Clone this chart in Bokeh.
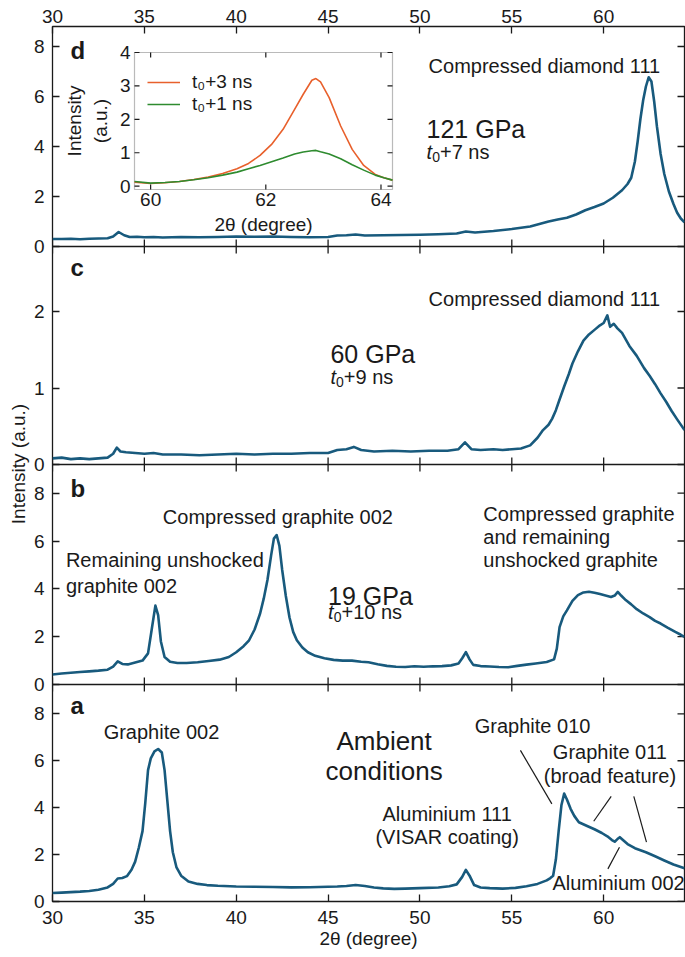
from math import pi
from bokeh.plotting import figure
from bokeh.models import (Range1d, LinearAxis, FixedTicker, BoxAnnotation, Label,
                          Legend, LegendItem, Span)
from bokeh.embed import file_html
from bokeh.resources import INLINE

FONT = "Liberation Sans"
INK = "#1a1a1a"
CURVE = "#185a7d"
ORANGE = "#e8602c"
GREEN = "#2e8b2f"

X_MIN, X_MAX = 30.0, 64.4
X_TICKS = [30, 35, 40, 45, 50, 55, 60]

# ---------------- panel d : 121 GPa, t0+7 ns ----------------
d_x = [30.0, 30.5, 31.0, 31.5, 32.0, 32.5, 33.0, 33.3, 33.6, 33.9, 34.2, 34.6, 35.0, 35.5,
       36.0, 37.0, 38.0, 39.0, 40.0, 41.0, 42.0, 43.0, 44.0, 45.0, 45.5, 46.0, 46.5, 47.0,
       48.0, 49.0, 50.0, 51.0, 52.0, 52.5, 53.0, 54.0, 55.0, 55.5, 56.0, 56.5, 57.0, 57.5,
       58.0, 58.5, 59.0, 59.5, 60.0, 60.5, 61.0, 61.3, 61.5, 61.7, 61.85, 62.0, 62.15, 62.3,
       62.45, 62.6, 62.75, 62.9, 63.1, 63.3, 63.55, 63.8, 64.0, 64.2, 64.4]
d_y = [0.30, 0.30, 0.31, 0.29, 0.31, 0.32, 0.33, 0.40, 0.58, 0.45, 0.38, 0.39, 0.37, 0.38,
       0.36, 0.38, 0.37, 0.38, 0.40, 0.39, 0.40, 0.38, 0.37, 0.38, 0.44, 0.45, 0.48, 0.44,
       0.45, 0.46, 0.47, 0.49, 0.52, 0.60, 0.56, 0.62, 0.70, 0.75, 0.80, 0.90, 1.00, 1.08,
       1.15, 1.28, 1.45, 1.58, 1.72, 1.95, 2.25, 2.50, 2.75, 3.40, 4.20, 5.10, 5.85, 6.40,
       6.77, 6.60, 5.80, 4.80, 3.70, 2.90, 2.20, 1.70, 1.35, 1.12, 0.97]

# ---------------- panel c : 60 GPa, t0+9 ns ----------------
c_x = [30.0, 30.5, 31.0, 31.5, 32.0, 32.5, 33.0, 33.3, 33.5, 33.7, 34.0, 34.5, 35.0, 35.5,
       36.0, 37.0, 38.0, 39.0, 40.0, 41.0, 42.0, 43.0, 44.0, 45.0, 45.5, 46.0, 46.4, 46.8,
       47.5, 48.5, 49.5, 50.5, 51.5, 52.1, 52.45, 52.8, 53.3, 54.0, 54.5, 55.0, 55.5, 56.0,
       56.4, 56.7, 57.0, 57.2, 57.4, 57.6, 57.85, 58.1, 58.3, 58.6, 58.9, 59.2, 59.5, 59.8,
       60.0, 60.2, 60.35, 60.55, 60.75, 61.0, 61.4, 61.8, 62.2, 62.5, 62.8, 63.1, 63.4, 63.7,
       64.0, 64.4]
c_y = [0.08, 0.09, 0.07, 0.08, 0.07, 0.08, 0.09, 0.14, 0.22, 0.17, 0.16, 0.15, 0.14, 0.15,
       0.13, 0.13, 0.12, 0.13, 0.14, 0.13, 0.14, 0.14, 0.15, 0.15, 0.19, 0.20, 0.23, 0.19,
       0.17, 0.18, 0.17, 0.18, 0.18, 0.20, 0.29, 0.20, 0.19, 0.20, 0.19, 0.20, 0.21, 0.25,
       0.35, 0.45, 0.52, 0.60, 0.71, 0.85, 1.02, 1.18, 1.32, 1.48, 1.62, 1.70, 1.76, 1.82,
       1.85, 1.95, 1.80, 1.84, 1.78, 1.72, 1.55, 1.42, 1.26, 1.16, 1.05, 0.93, 0.82, 0.70,
       0.59, 0.45]

# ---------------- panel b : 19 GPa, t0+10 ns ----------------
b_x = [30.0, 30.5, 31.0, 31.5, 32.0, 32.5, 33.0, 33.3, 33.55, 33.8, 34.1, 34.5, 34.9, 35.2,
       35.4, 35.6, 35.75, 35.9, 36.1, 36.4, 36.8, 37.3, 37.9, 38.5, 39.1, 39.6, 40.0, 40.4,
       40.7, 41.0, 41.3, 41.5, 41.7, 41.9, 42.05, 42.2, 42.35, 42.5, 42.7, 42.9, 43.1, 43.3,
       43.6, 43.9, 44.3, 44.8, 45.3, 45.8, 46.3, 46.8, 47.2, 47.7, 48.2, 48.7, 49.2, 49.7,
       50.2, 50.7, 51.2, 51.7, 52.1, 52.3, 52.5, 52.7, 52.9, 53.3, 53.8, 54.3, 54.8, 55.3,
       55.8, 56.3, 56.9, 57.3, 57.45, 57.6, 57.8, 58.0, 58.3, 58.6, 58.9, 59.2, 59.5, 59.8,
       60.1, 60.4, 60.6, 60.77, 60.95, 61.2, 61.5, 61.8, 62.15, 62.5, 62.8, 63.1, 63.5, 63.9,
       64.2, 64.4]
b_y = [0.42, 0.46, 0.49, 0.52, 0.55, 0.58, 0.62, 0.75, 0.97, 0.86, 0.84, 0.92, 1.00, 1.30,
       2.30, 3.30, 2.90, 1.80, 1.15, 0.95, 0.90, 0.90, 0.93, 0.98, 1.04, 1.15, 1.35, 1.60,
       1.85, 2.30, 2.97, 3.60, 4.37, 5.40, 6.10, 6.25, 5.80, 4.80, 3.70, 2.80, 2.20, 1.85,
       1.55, 1.35, 1.20, 1.10, 1.03, 1.00, 1.00, 0.95, 0.93, 0.85, 0.78, 0.74, 0.73, 0.76,
       0.74, 0.76, 0.77, 0.80, 0.88, 1.10, 1.35, 1.05, 0.82, 0.77, 0.75, 0.73, 0.72, 0.78,
       0.83, 0.88, 0.94, 1.05, 1.50, 2.40, 2.85, 3.10, 3.50, 3.74, 3.85, 3.88, 3.84, 3.78,
       3.72, 3.66, 3.72, 3.87, 3.72, 3.53, 3.35, 3.15, 2.97, 2.82, 2.66, 2.55, 2.37, 2.20,
       2.08, 1.99]

# ---------------- panel a : ambient conditions ----------------
a_x = [30.0, 30.5, 31.0, 31.5, 32.0, 32.5, 33.0, 33.3, 33.55, 33.8, 34.05, 34.3, 34.5, 34.7,
       34.9, 35.05, 35.2, 35.35, 35.55, 35.75, 35.95, 36.1, 36.25, 36.4, 36.55, 36.75, 37.0,
       37.4, 37.9, 38.4, 39.0, 40.0, 41.0, 42.0, 43.0, 44.0, 45.0, 45.5, 46.0, 46.5, 47.0,
       47.5, 48.0, 48.6, 49.2, 50.0, 51.0, 51.6, 52.0, 52.3, 52.5, 52.7, 52.95, 53.3, 53.8,
       54.5, 55.2, 55.8, 56.4, 56.9, 57.1, 57.25, 57.4, 57.55, 57.7, 57.85, 58.0, 58.2, 58.4,
       58.65, 59.1, 59.5, 59.9, 60.2, 60.45, 60.6, 60.75, 60.88, 61.05, 61.3, 61.7, 62.3,
       62.8, 63.3, 63.8, 64.4]
a_y = [0.36, 0.38, 0.40, 0.42, 0.45, 0.50, 0.60, 0.75, 0.98, 1.00, 1.08, 1.35, 1.70, 2.30,
       3.00, 4.20, 5.60, 6.10, 6.40, 6.50, 6.35, 5.60, 4.30, 3.00, 2.10, 1.45, 1.10, 0.85,
       0.75, 0.70, 0.67, 0.64, 0.63, 0.62, 0.60, 0.61, 0.63, 0.64, 0.66, 0.70, 0.66, 0.60,
       0.56, 0.54, 0.55, 0.57, 0.60, 0.65, 0.73, 1.05, 1.35, 1.10, 0.70, 0.60, 0.57, 0.55,
       0.58, 0.65, 0.75, 0.90, 1.00, 1.10, 1.80, 3.00, 4.10, 4.60, 4.35, 3.95, 3.65, 3.38,
       3.22, 3.08, 2.92, 2.78, 2.62, 2.55, 2.66, 2.74, 2.62, 2.45, 2.27, 2.10, 1.93, 1.75,
       1.58, 1.42]

# leader lines in panel a (x0, y0) -> (x1, y1)
a_lead_x0 = [55.47, 60.41, 61.64, 60.86]
a_lead_y0 = [6.44, 4.48, 4.48, 2.31]
a_lead_x1 = [57.18, 59.46, 62.33, 60.23]
a_lead_y1 = [4.16, 3.42, 2.53, 1.39]

# ---------------- inset (panel d) ----------------
inset_x = [59.72, 60.0, 60.25, 60.5, 60.75, 61.0, 61.25, 61.5, 61.7, 61.9, 62.1, 62.3, 62.5,
           62.65, 62.8, 62.87, 62.95, 63.1, 63.3, 63.5, 63.7, 63.9, 64.05, 64.2]
inset_t3 = [0.12, 0.08, 0.10, 0.14, 0.20, 0.27, 0.38, 0.52, 0.68, 0.92, 1.25, 1.70, 2.30,
            2.75, 3.17, 3.22, 3.12, 2.65, 1.80, 1.10, 0.62, 0.35, 0.25, 0.18]
inset_t1 = [0.14, 0.09, 0.11, 0.14, 0.19, 0.25, 0.33, 0.42, 0.52, 0.62, 0.73, 0.84, 0.96,
            1.02, 1.06, 1.07, 1.03, 0.96, 0.82, 0.64, 0.48, 0.33, 0.25, 0.18]
INSET_XLIM = (59.72, 64.2)
INSET_YLIM = (-0.1, 4.0)
INSET_XTICKS = [60, 62, 64]
INSET_YTICKS = [0, 1, 2, 3, 4]

# ---------------- geometry (page pixels) ----------------
W, H = 685, 957
FR_L, FR_R, FR_T, FR_B = 52, 684, 26, 901
FR_W, FR_H = FR_R - FR_L, FR_B - FR_T
# panel bands: name -> (top px, bottom px, y max, y ticks)
PANELS = {
    "d": (26, 246, 8.8, [0, 2, 4, 6, 8]),
    "c": (246, 464, 2.85, [0, 1, 2]),
    "b": (464, 684, 9.2, [0, 2, 4, 6, 8]),
    "a": (684, 901, 9.25, [0, 2, 4, 6, 8]),
}
TICK_PX = 7

p = figure(width=W, height=H, x_range=Range1d(X_MIN, X_MAX), y_range=Range1d(0, FR_H),
           output_backend="svg", toolbar_location=None, x_axis_location=None,
           y_axis_location=None)
p.min_border_left = FR_L
p.min_border_right = W - FR_R
p.min_border_top = FR_T
p.min_border_bottom = H - FR_B
p.grid.visible = False
p.outline_line_color = INK
p.outline_line_width = 1.3
p.background_fill_color = "white"
p.border_fill_color = "white"


def style_axis(ax, standoff):
    ax.axis_line_color = None
    ax.major_tick_in = TICK_PX
    ax.major_tick_out = 0
    ax.minor_tick_line_color = None
    ax.major_tick_line_color = INK
    ax.major_tick_line_width = 1.3
    ax.major_label_text_font = FONT
    ax.major_label_text_font_size = "19px"
    ax.major_label_text_color = INK
    ax.major_label_standoff = standoff


above = LinearAxis(ticker=FixedTicker(ticks=X_TICKS))
style_axis(above, 4)
p.add_layout(above, "above")
below = LinearAxis(ticker=FixedTicker(ticks=X_TICKS))
style_axis(below, 9)
below.axis_label = "2θ (degree)"
below.axis_label_text_font = FONT
below.axis_label_text_font_size = "19px"
below.axis_label_text_font_style = "normal"
below.axis_label_text_color = INK
below.axis_label_standoff = 1
p.add_layout(below, "below")

# per-panel y ranges (each panel is a band of the frame)
extra_y = {}
scale = {}
left_ticks, left_labels = [], {}
for name, (top_px, bot_px, ymax, yticks) in PANELS.items():
    s = (bot_px - top_px) / ymax
    start = -(FR_B - bot_px) / s
    extra_y[name] = Range1d(start, start + FR_H / s)
    scale[name] = s
    for t in yticks:
        pos = round((FR_B - bot_px) + t * s, 3)
        left_ticks.append(pos)
        left_labels[pos] = str(t)

# shared left axis: panel tick values mapped onto the common frame
left = LinearAxis(ticker=FixedTicker(ticks=left_ticks), major_label_overrides=left_labels)
style_axis(left, 8)
left.axis_label = "Intensity (a.u.)"
left.axis_label_text_font = FONT
left.axis_label_text_font_size = "19px"
left.axis_label_text_font_style = "normal"
left.axis_label_text_color = INK
left.axis_label_standoff = 2
p.add_layout(left, "left")

# inset ranges
sx = (392 - 134) / (INSET_XLIM[1] - INSET_XLIM[0])
sy = (189 - 52) / (INSET_YLIM[1] - INSET_YLIM[0])
ix0 = INSET_XLIM[0] - (134 - FR_L) / sx
iy0 = INSET_YLIM[0] - (FR_B - 189) / sy
extra_y["iy"] = Range1d(iy0, iy0 + FR_H / sy)
p.extra_y_ranges = extra_y
p.extra_x_ranges = {"ix": Range1d(ix0, ix0 + FR_W / sx)}

ux = TICK_PX * (X_MAX - X_MIN) / FR_W
for name, (top_px, bot_px, ymax, yticks) in PANELS.items():
    uy = TICK_PX / scale[name]
    x0, y0, x1, y1 = [], [], [], []
    for t in yticks:
        x0.append(X_MAX); x1.append(X_MAX - ux); y0.append(t); y1.append(t)
    if name != "d":
        for t in X_TICKS:
            x0.append(t); x1.append(t); y0.append(ymax); y1.append(ymax - uy)
    if name != "a":
        for t in X_TICKS:
            x0.append(t); x1.append(t); y0.append(0); y1.append(uy)
        p.add_layout(Span(location=0, dimension="width", y_range_name=name,
                          line_color=INK, line_width=1.3))
    p.segment(x0, y0, x1, y1, line_color=INK, line_width=1.3, y_range_name=name)

for name, xs, ys in [("d", d_x, d_y), ("c", c_x, c_y), ("b", b_x, b_y), ("a", a_x, a_y)]:
    p.line(xs, ys, line_color=CURVE, line_width=2.6, line_join="round", y_range_name=name)


def note(panel, x, y, text, size="20px", align="left", style="normal", **kw):
    p.add_layout(Label(x=x, y=y, text=text, text_font=FONT, text_font_size=size,
                       text_font_style=style, text_color=INK, text_align=align,
                       text_baseline="middle", y_range_name=panel, **kw))


def time_note(panel, x, y, rest):
    note(panel, x, y, "t", style="italic")
    note(panel, x, y, "0", size="14px", x_offset=5.6, y_offset=-5)
    note(panel, x, y, rest, x_offset=13.4)


# panel d texts
note("d", 30.98, 7.84, "d", size="24px", style="bold")
note("d", 50.47, 7.24, "Compressed diamond 111")
note("d", 50.36, 4.71, "121 GPa", size="25px")
time_note("d", 50.36, 3.77, "+7 ns")

# panel c texts
note("c", 30.98, 2.58, "c", size="24px", style="bold")
note("c", 50.47, 2.17, "Compressed diamond 111")
note("c", 45.13, 1.45, "60 GPa", size="25px")
time_note("c", 45.13, 1.14, "+9 ns")

# panel b texts
note("b", 30.98, 8.2, "b", size="24px", style="bold")
note("b", 42.27, 7.0, "Compressed graphite 002", align="center")
note("b", 30.73, 5.19, "Remaining unshocked")
note("b", 30.73, 4.14, "graphite 002")
note("b", 45.0, 3.72, "19 GPa", size="25px")
time_note("b", 45.0, 3.03, "+10 ns")
note("b", 53.45, 7.14, "Compressed graphite")
note("b", 53.45, 6.16, "and remaining")
note("b", 53.45, 5.19, "unshocked graphite")

# panel a texts
note("a", 30.98, 8.35, "a", size="24px", style="bold")
note("a", 35.93, 7.22, "Graphite 002", align="center")
note("a", 48.05, 6.86, "Ambient", size="26px", align="center")
note("a", 48.05, 5.58, "conditions", size="26px", align="center")
note("a", 51.48, 3.74, "Aluminium 111", align="center")
note("a", 51.48, 2.74, "(VISAR coating)", align="center")
note("a", 56.13, 7.46, "Graphite 010", align="center")
note("a", 60.34, 6.36, "Graphite 011", align="center")
note("a", 60.34, 5.33, "(broad feature)", align="center")
note("a", 60.81, 0.78, "Aluminium 002", align="center")
p.segment(a_lead_x0, a_lead_y0, a_lead_x1, a_lead_y1, line_color=INK, line_width=1.2,
          y_range_name="a")

# ---------------- inset inside panel d ----------------
IR = dict(x_range_name="ix", y_range_name="iy")
p.add_layout(BoxAnnotation(left=INSET_XLIM[0], right=INSET_XLIM[1], bottom=INSET_YLIM[0],
                           top=INSET_YLIM[1], fill_color="white", fill_alpha=1.0,
                           line_color=INK, line_width=1.2, level="underlay", **IR))
r3 = p.line(inset_x, inset_t3, line_color=ORANGE, line_width=1.6, **IR)
r1 = p.line(inset_x, inset_t1, line_color=GREEN, line_width=1.6, **IR)

tk = 5.0
tx0, ty0, tx1, ty1 = [], [], [], []
for t in INSET_XTICKS:
    tx0 += [t, t]
    tx1 += [t, t]
    ty0 += [INSET_YLIM[0], INSET_YLIM[1]]
    ty1 += [INSET_YLIM[0] + tk / sy, INSET_YLIM[1] - tk / sy]
for t in INSET_YTICKS:
    ty0 += [t, t]
    ty1 += [t, t]
    tx0 += [INSET_XLIM[0], INSET_XLIM[1]]
    tx1 += [INSET_XLIM[0] + tk / sx, INSET_XLIM[1] - tk / sx]
p.segment(tx0, ty0, tx1, ty1, line_color=INK, line_width=1.2, **IR)

for t in INSET_XTICKS:
    p.add_layout(Label(x=t, y=INSET_YLIM[0], text=str(t), text_font=FONT,
                       text_font_size="19px", text_color=INK, text_align="center",
                       text_baseline="top", y_offset=-3, **IR))
for t in INSET_YTICKS:
    p.add_layout(Label(x=INSET_XLIM[0], y=t, text=str(t), text_font=FONT,
                       text_font_size="19px", text_color=INK, text_align="right",
                       text_baseline="middle", x_offset=-4, **IR))
xmid = (INSET_XLIM[0] + INSET_XLIM[1]) / 2
ymid = (INSET_YLIM[0] + INSET_YLIM[1]) / 2
p.add_layout(Label(x=xmid, y=INSET_YLIM[0], text="2θ (degree)", text_font=FONT,
                   text_font_size="19px", text_color=INK, text_align="center",
                   text_baseline="middle", y_offset=-35, **IR))
p.add_layout(Label(x=INSET_XLIM[0], y=ymid, text="Intensity", text_font=FONT,
                   text_font_size="19px", text_color=INK, text_align="center",
                   text_baseline="middle", x_offset=-60, angle=pi / 2, **IR))
p.add_layout(Label(x=INSET_XLIM[0], y=ymid, text="(a.u.)", text_font=FONT,
                   text_font_size="19px", text_color=INK, text_align="center",
                   text_baseline="middle", x_offset=-34, angle=pi / 2, **IR))

legend = Legend(items=[LegendItem(label="t₀+3 ns", renderers=[r3]),
                       LegendItem(label="t₀+1 ns", renderers=[r1])],
                location=(95, FR_B - 115), border_line_color=None, background_fill_alpha=0,
                label_text_font=FONT, label_text_font_size="19px", label_text_color=INK,
                glyph_width=33, glyph_height=20, label_height=20, label_standoff=12,
                padding=0, margin=0, spacing=0)
p.add_layout(legend)

open("out.html", "w").write(file_html(p, INLINE))
